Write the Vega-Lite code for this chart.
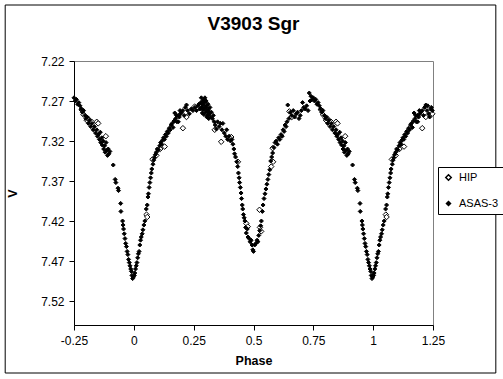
{
"$schema": "https://vega.github.io/schema/vega-lite/v6.json",
"width": 359, "height": 264,
"autosize": {"type": "none"},
"padding": {"left": 74, "top": 61, "right": 70, "bottom": 54},
"background": "white",
"title": {"text": "V3903 Sgr", "font": "Liberation Sans", "fontSize": 19, "fontWeight": "bold", "color": "black", "anchor": "middle", "offset": -29},
"config": {
  "view": {"stroke": "#808080", "strokeWidth": 1},
  "axis": {"domainColor": "black", "tickColor": "black", "tickSize": 5, "labelColor": "black", "labelFont": "Liberation Sans", "labelFontSize": 12, "titleFont": "Liberation Sans", "titleFontSize": 12.5, "titleFontWeight": "bold", "titleColor": "black", "grid": false},
  "legend": {"orient": "none", "legendX": 364, "legendY": 106, "title": null, "strokeColor": "black", "fillColor": "white", "padding": 5, "rowPadding": 13, "labelFont": "Liberation Sans", "labelFontSize": 11, "labelColor": "black", "labelOffset": 5}
},
"layer": [
  {
    "data": {"values": [{}]},
    "mark": {"type": "rect", "fill": null, "stroke": "black", "strokeWidth": 1, "clip": false},
    "encoding": {
      "x": {"datum": -0.5375, "type": "quantitative"},
      "x2": {"datum": 1.5125},
      "y": {"datum": 7.15, "type": "quantitative"},
      "y2": {"datum": 7.61}
    }
  },
  {
    "data": {"values": [
{"p":0.053,"v":7.412,"s":"HIP"},{"p":0.056,"v":7.415,"s":"HIP"},{"p":0.078,"v":7.343,"s":"HIP"},{"p":0.094,"v":7.338,"s":"HIP"},{"p":0.110,"v":7.330,"s":"HIP"},{"p":0.129,"v":7.327,"s":"HIP"},{"p":0.205,"v":7.304,"s":"HIP"},{"p":0.220,"v":7.290,"s":"HIP"},{"p":0.254,"v":7.277,"s":"HIP"},{"p":0.338,"v":7.306,"s":"HIP"},{"p":0.365,"v":7.321,"s":"HIP"},{"p":0.407,"v":7.315,"s":"HIP"},{"p":0.435,"v":7.346,"s":"HIP"},{"p":0.470,"v":7.423,"s":"HIP"},{"p":0.476,"v":7.427,"s":"HIP"},{"p":0.525,"v":7.406,"s":"HIP"},{"p":0.527,"v":7.428,"s":"HIP"},{"p":0.532,"v":7.433,"s":"HIP"},{"p":0.574,"v":7.352,"s":"HIP"},{"p":0.580,"v":7.329,"s":"HIP"},{"p":0.582,"v":7.346,"s":"HIP"},{"p":0.650,"v":7.283,"s":"HIP"},{"p":0.660,"v":7.290,"s":"HIP"},{"p":0.782,"v":7.281,"s":"HIP"},{"p":0.790,"v":7.287,"s":"HIP"},{"p":0.803,"v":7.294,"s":"HIP"},{"p":0.812,"v":7.293,"s":"HIP"},{"p":0.824,"v":7.296,"s":"HIP"},{"p":0.845,"v":7.296,"s":"HIP"},{"p":0.851,"v":7.298,"s":"HIP"},{"p":0.883,"v":7.314,"s":"HIP"},
{"p":-0.218,"v":7.281,"s":"HIP"},{"p":-0.210,"v":7.287,"s":"HIP"},{"p":-0.197,"v":7.294,"s":"HIP"},{"p":-0.188,"v":7.293,"s":"HIP"},{"p":-0.176,"v":7.296,"s":"HIP"},{"p":-0.155,"v":7.296,"s":"HIP"},{"p":-0.149,"v":7.298,"s":"HIP"},{"p":-0.117,"v":7.314,"s":"HIP"},
{"p":1.053,"v":7.412,"s":"HIP"},{"p":1.056,"v":7.415,"s":"HIP"},{"p":1.078,"v":7.343,"s":"HIP"},{"p":1.094,"v":7.338,"s":"HIP"},{"p":1.110,"v":7.330,"s":"HIP"},{"p":1.129,"v":7.327,"s":"HIP"},{"p":1.205,"v":7.304,"s":"HIP"},{"p":1.220,"v":7.290,"s":"HIP"},{"p":1.247,"v":7.286,"s":"HIP"},
{"p":0.852,"v":7.312,"s":"ASAS-3"},{"p":0.856,"v":7.318,"s":"ASAS-3"},{"p":0.860,"v":7.309,"s":"ASAS-3"},{"p":0.862,"v":7.322,"s":"ASAS-3"},{"p":0.866,"v":7.316,"s":"ASAS-3"},{"p":0.868,"v":7.325,"s":"ASAS-3"},{"p":0.872,"v":7.320,"s":"ASAS-3"},{"p":0.874,"v":7.330,"s":"ASAS-3"},{"p":0.878,"v":7.326,"s":"ASAS-3"},{"p":0.880,"v":7.334,"s":"ASAS-3"},{"p":0.884,"v":7.322,"s":"ASAS-3"},{"p":0.886,"v":7.332,"s":"ASAS-3"},{"p":0.890,"v":7.338,"s":"ASAS-3"},{"p":0.893,"v":7.330,"s":"ASAS-3"},{"p":0.896,"v":7.336,"s":"ASAS-3"},{"p":0.900,"v":7.333,"s":"ASAS-3"},{"p":0.914,"v":7.350,"s":"ASAS-3"},{"p":0.922,"v":7.368,"s":"ASAS-3"},{"p":0.925,"v":7.372,"s":"ASAS-3"},{"p":0.934,"v":7.379,"s":"ASAS-3"},{"p":0.936,"v":7.382,"s":"ASAS-3"},{"p":0.945,"v":7.398,"s":"ASAS-3"},{"p":0.946,"v":7.408,"s":"ASAS-3"},{"p":0.953,"v":7.420,"s":"ASAS-3"},{"p":0.955,"v":7.425,"s":"ASAS-3"},{"p":0.957,"v":7.430,"s":"ASAS-3"},{"p":0.960,"v":7.436,"s":"ASAS-3"},{"p":0.963,"v":7.442,"s":"ASAS-3"},{"p":0.966,"v":7.448,"s":"ASAS-3"},{"p":0.969,"v":7.452,"s":"ASAS-3"},{"p":0.972,"v":7.458,"s":"ASAS-3"},{"p":0.975,"v":7.462,"s":"ASAS-3"},{"p":0.978,"v":7.468,"s":"ASAS-3"},{"p":0.981,"v":7.472,"s":"ASAS-3"},{"p":0.984,"v":7.476,"s":"ASAS-3"},{"p":0.987,"v":7.480,"s":"ASAS-3"},{"p":0.990,"v":7.483,"s":"ASAS-3"},{"p":0.992,"v":7.488,"s":"ASAS-3"},{"p":0.995,"v":7.492,"s":"ASAS-3"},{"p":0.998,"v":7.490,"s":"ASAS-3"},
{"p":0.002,"v":7.488,"s":"ASAS-3"},{"p":0.004,"v":7.485,"s":"ASAS-3"},{"p":0.007,"v":7.480,"s":"ASAS-3"},{"p":0.010,"v":7.476,"s":"ASAS-3"},{"p":0.013,"v":7.472,"s":"ASAS-3"},{"p":0.016,"v":7.466,"s":"ASAS-3"},{"p":0.019,"v":7.461,"s":"ASAS-3"},{"p":0.022,"v":7.458,"s":"ASAS-3"},{"p":0.025,"v":7.450,"s":"ASAS-3"},{"p":0.028,"v":7.444,"s":"ASAS-3"},{"p":0.031,"v":7.440,"s":"ASAS-3"},{"p":0.035,"v":7.436,"s":"ASAS-3"},{"p":0.038,"v":7.431,"s":"ASAS-3"},{"p":0.042,"v":7.425,"s":"ASAS-3"},{"p":0.046,"v":7.420,"s":"ASAS-3"},{"p":0.052,"v":7.405,"s":"ASAS-3"},{"p":0.056,"v":7.400,"s":"ASAS-3"},{"p":0.059,"v":7.390,"s":"ASAS-3"},{"p":0.061,"v":7.386,"s":"ASAS-3"},{"p":0.064,"v":7.378,"s":"ASAS-3"},{"p":0.067,"v":7.372,"s":"ASAS-3"},{"p":0.070,"v":7.366,"s":"ASAS-3"},{"p":0.073,"v":7.360,"s":"ASAS-3"},{"p":0.075,"v":7.355,"s":"ASAS-3"},{"p":0.080,"v":7.349,"s":"ASAS-3"},{"p":0.083,"v":7.344,"s":"ASAS-3"},{"p":0.086,"v":7.341,"s":"ASAS-3"},{"p":0.090,"v":7.337,"s":"ASAS-3"},{"p":0.094,"v":7.334,"s":"ASAS-3"},{"p":0.098,"v":7.330,"s":"ASAS-3"},{"p":0.103,"v":7.331,"s":"ASAS-3"},
{"p":0.108,"v":7.326,"s":"ASAS-3"},{"p":0.112,"v":7.322,"s":"ASAS-3"},{"p":0.116,"v":7.324,"s":"ASAS-3"},{"p":0.120,"v":7.319,"s":"ASAS-3"},{"p":0.124,"v":7.316,"s":"ASAS-3"},{"p":0.128,"v":7.318,"s":"ASAS-3"},{"p":0.132,"v":7.312,"s":"ASAS-3"},{"p":0.136,"v":7.314,"s":"ASAS-3"},{"p":0.140,"v":7.308,"s":"ASAS-3"},{"p":0.144,"v":7.310,"s":"ASAS-3"},{"p":0.148,"v":7.304,"s":"ASAS-3"},{"p":0.152,"v":7.306,"s":"ASAS-3"},{"p":0.156,"v":7.300,"s":"ASAS-3"},{"p":0.160,"v":7.298,"s":"ASAS-3"},{"p":0.164,"v":7.303,"s":"ASAS-3"},{"p":0.168,"v":7.295,"s":"ASAS-3"},{"p":0.171,"v":7.285,"s":"ASAS-3"},{"p":0.175,"v":7.292,"s":"ASAS-3"},{"p":0.180,"v":7.296,"s":"ASAS-3"},{"p":0.185,"v":7.288,"s":"ASAS-3"},{"p":0.190,"v":7.290,"s":"ASAS-3"},{"p":0.195,"v":7.286,"s":"ASAS-3"},{"p":0.199,"v":7.284,"s":"ASAS-3"},{"p":0.205,"v":7.282,"s":"ASAS-3"},{"p":0.210,"v":7.288,"s":"ASAS-3"},{"p":0.215,"v":7.278,"s":"ASAS-3"},{"p":0.220,"v":7.275,"s":"ASAS-3"},{"p":0.225,"v":7.282,"s":"ASAS-3"},{"p":0.232,"v":7.286,"s":"ASAS-3"},{"p":0.240,"v":7.280,"s":"ASAS-3"},{"p":0.247,"v":7.282,"s":"ASAS-3"},
{"p":0.255,"v":7.278,"s":"ASAS-3"},{"p":0.262,"v":7.282,"s":"ASAS-3"},{"p":0.268,"v":7.276,"s":"ASAS-3"},{"p":0.272,"v":7.274,"s":"ASAS-3"},{"p":0.276,"v":7.280,"s":"ASAS-3"},{"p":0.280,"v":7.272,"s":"ASAS-3"},{"p":0.283,"v":7.278,"s":"ASAS-3"},{"p":0.286,"v":7.285,"s":"ASAS-3"},{"p":0.288,"v":7.270,"s":"ASAS-3"},{"p":0.290,"v":7.275,"s":"ASAS-3"},{"p":0.292,"v":7.280,"s":"ASAS-3"},{"p":0.294,"v":7.268,"s":"ASAS-3"},{"p":0.296,"v":7.272,"s":"ASAS-3"},{"p":0.298,"v":7.278,"s":"ASAS-3"},{"p":0.300,"v":7.284,"s":"ASAS-3"},{"p":0.302,"v":7.270,"s":"ASAS-3"},{"p":0.304,"v":7.276,"s":"ASAS-3"},{"p":0.306,"v":7.282,"s":"ASAS-3"},{"p":0.308,"v":7.288,"s":"ASAS-3"},{"p":0.310,"v":7.274,"s":"ASAS-3"},{"p":0.312,"v":7.280,"s":"ASAS-3"},{"p":0.315,"v":7.286,"s":"ASAS-3"},{"p":0.318,"v":7.278,"s":"ASAS-3"},{"p":0.320,"v":7.290,"s":"ASAS-3"},{"p":0.324,"v":7.284,"s":"ASAS-3"},{"p":0.328,"v":7.292,"s":"ASAS-3"},{"p":0.332,"v":7.288,"s":"ASAS-3"},{"p":0.336,"v":7.296,"s":"ASAS-3"},{"p":0.340,"v":7.300,"s":"ASAS-3"},{"p":0.345,"v":7.305,"s":"ASAS-3"},{"p":0.350,"v":7.296,"s":"ASAS-3"},{"p":0.356,"v":7.302,"s":"ASAS-3"},{"p":0.362,"v":7.298,"s":"ASAS-3"},{"p":0.368,"v":7.306,"s":"ASAS-3"},{"p":0.372,"v":7.298,"s":"ASAS-3"},{"p":0.378,"v":7.310,"s":"ASAS-3"},{"p":0.384,"v":7.314,"s":"ASAS-3"},{"p":0.388,"v":7.306,"s":"ASAS-3"},{"p":0.392,"v":7.318,"s":"ASAS-3"},{"p":0.398,"v":7.314,"s":"ASAS-3"},{"p":0.404,"v":7.320,"s":"ASAS-3"},{"p":0.410,"v":7.318,"s":"ASAS-3"},{"p":0.414,"v":7.324,"s":"ASAS-3"},{"p":0.418,"v":7.330,"s":"ASAS-3"},{"p":0.421,"v":7.336,"s":"ASAS-3"},{"p":0.425,"v":7.340,"s":"ASAS-3"},{"p":0.430,"v":7.346,"s":"ASAS-3"},{"p":0.434,"v":7.352,"s":"ASAS-3"},{"p":0.437,"v":7.360,"s":"ASAS-3"},{"p":0.440,"v":7.366,"s":"ASAS-3"},{"p":0.442,"v":7.372,"s":"ASAS-3"},{"p":0.445,"v":7.378,"s":"ASAS-3"},{"p":0.448,"v":7.385,"s":"ASAS-3"},{"p":0.450,"v":7.392,"s":"ASAS-3"},{"p":0.453,"v":7.400,"s":"ASAS-3"},{"p":0.455,"v":7.405,"s":"ASAS-3"},{"p":0.458,"v":7.412,"s":"ASAS-3"},{"p":0.461,"v":7.416,"s":"ASAS-3"},{"p":0.464,"v":7.420,"s":"ASAS-3"},{"p":0.467,"v":7.428,"s":"ASAS-3"},{"p":0.470,"v":7.435,"s":"ASAS-3"},{"p":0.474,"v":7.430,"s":"ASAS-3"},{"p":0.477,"v":7.440,"s":"ASAS-3"},{"p":0.482,"v":7.442,"s":"ASAS-3"},{"p":0.486,"v":7.446,"s":"ASAS-3"},{"p":0.490,"v":7.444,"s":"ASAS-3"},{"p":0.494,"v":7.450,"s":"ASAS-3"},{"p":0.497,"v":7.456,"s":"ASAS-3"},{"p":0.500,"v":7.458,"s":"ASAS-3"},
{"p":0.282,"v":7.266,"s":"ASAS-3"},{"p":0.285,"v":7.274,"s":"ASAS-3"},{"p":0.289,"v":7.281,"s":"ASAS-3"},{"p":0.293,"v":7.287,"s":"ASAS-3"},{"p":0.297,"v":7.266,"s":"ASAS-3"},{"p":0.301,"v":7.278,"s":"ASAS-3"},{"p":0.305,"v":7.290,"s":"ASAS-3"},{"p":0.309,"v":7.283,"s":"ASAS-3"},{"p":0.313,"v":7.292,"s":"ASAS-3"},{"p":0.317,"v":7.284,"s":"ASAS-3"},{"p":0.178,"v":7.288,"s":"ASAS-3"},{"p":0.186,"v":7.296,"s":"ASAS-3"},{"p":0.193,"v":7.282,"s":"ASAS-3"},
{"p":0.505,"v":7.450,"s":"ASAS-3"},{"p":0.510,"v":7.448,"s":"ASAS-3"},{"p":0.515,"v":7.444,"s":"ASAS-3"},{"p":0.518,"v":7.446,"s":"ASAS-3"},{"p":0.522,"v":7.438,"s":"ASAS-3"},{"p":0.526,"v":7.432,"s":"ASAS-3"},{"p":0.530,"v":7.426,"s":"ASAS-3"},{"p":0.533,"v":7.420,"s":"ASAS-3"},{"p":0.537,"v":7.408,"s":"ASAS-3"},{"p":0.540,"v":7.400,"s":"ASAS-3"},{"p":0.544,"v":7.392,"s":"ASAS-3"},{"p":0.548,"v":7.386,"s":"ASAS-3"},{"p":0.552,"v":7.380,"s":"ASAS-3"},{"p":0.556,"v":7.374,"s":"ASAS-3"},{"p":0.560,"v":7.368,"s":"ASAS-3"},{"p":0.564,"v":7.362,"s":"ASAS-3"},{"p":0.568,"v":7.356,"s":"ASAS-3"},{"p":0.572,"v":7.345,"s":"ASAS-3"},{"p":0.576,"v":7.340,"s":"ASAS-3"},{"p":0.580,"v":7.335,"s":"ASAS-3"},{"p":0.585,"v":7.328,"s":"ASAS-3"},{"p":0.590,"v":7.322,"s":"ASAS-3"},{"p":0.595,"v":7.320,"s":"ASAS-3"},{"p":0.600,"v":7.324,"s":"ASAS-3"},{"p":0.605,"v":7.316,"s":"ASAS-3"},{"p":0.610,"v":7.318,"s":"ASAS-3"},{"p":0.615,"v":7.312,"s":"ASAS-3"},{"p":0.620,"v":7.314,"s":"ASAS-3"},{"p":0.624,"v":7.306,"s":"ASAS-3"},{"p":0.628,"v":7.308,"s":"ASAS-3"},{"p":0.632,"v":7.300,"s":"ASAS-3"},{"p":0.636,"v":7.302,"s":"ASAS-3"},{"p":0.640,"v":7.296,"s":"ASAS-3"},{"p":0.643,"v":7.275,"s":"ASAS-3"},{"p":0.648,"v":7.292,"s":"ASAS-3"},{"p":0.654,"v":7.284,"s":"ASAS-3"},{"p":0.660,"v":7.288,"s":"ASAS-3"},{"p":0.666,"v":7.282,"s":"ASAS-3"},{"p":0.672,"v":7.290,"s":"ASAS-3"},{"p":0.678,"v":7.286,"s":"ASAS-3"},{"p":0.684,"v":7.284,"s":"ASAS-3"},{"p":0.690,"v":7.292,"s":"ASAS-3"},{"p":0.695,"v":7.288,"s":"ASAS-3"},{"p":0.700,"v":7.282,"s":"ASAS-3"},{"p":0.705,"v":7.272,"s":"ASAS-3"},{"p":0.710,"v":7.278,"s":"ASAS-3"},{"p":0.716,"v":7.280,"s":"ASAS-3"},{"p":0.722,"v":7.276,"s":"ASAS-3"},{"p":0.728,"v":7.282,"s":"ASAS-3"},{"p":0.733,"v":7.260,"s":"ASAS-3"},{"p":0.736,"v":7.270,"s":"ASAS-3"},{"p":0.740,"v":7.264,"s":"ASAS-3"},{"p":0.745,"v":7.268,"s":"ASAS-3"},
{"p":0.750,"v":7.266,"s":"ASAS-3"},{"p":0.755,"v":7.270,"s":"ASAS-3"},{"p":0.760,"v":7.268,"s":"ASAS-3"},{"p":0.765,"v":7.274,"s":"ASAS-3"},{"p":0.770,"v":7.272,"s":"ASAS-3"},{"p":0.775,"v":7.276,"s":"ASAS-3"},{"p":0.780,"v":7.280,"s":"ASAS-3"},{"p":0.785,"v":7.284,"s":"ASAS-3"},{"p":0.790,"v":7.282,"s":"ASAS-3"},{"p":0.796,"v":7.288,"s":"ASAS-3"},{"p":0.800,"v":7.292,"s":"ASAS-3"},{"p":0.805,"v":7.290,"s":"ASAS-3"},{"p":0.810,"v":7.298,"s":"ASAS-3"},{"p":0.815,"v":7.294,"s":"ASAS-3"},{"p":0.820,"v":7.302,"s":"ASAS-3"},{"p":0.825,"v":7.298,"s":"ASAS-3"},{"p":0.830,"v":7.306,"s":"ASAS-3"},{"p":0.835,"v":7.302,"s":"ASAS-3"},{"p":0.840,"v":7.310,"s":"ASAS-3"},{"p":0.845,"v":7.306,"s":"ASAS-3"},{"p":0.848,"v":7.314,"s":"ASAS-3"},
{"p":-0.250,"v":7.266,"s":"ASAS-3"},{"p":-0.245,"v":7.270,"s":"ASAS-3"},{"p":-0.240,"v":7.268,"s":"ASAS-3"},{"p":-0.235,"v":7.274,"s":"ASAS-3"},{"p":-0.230,"v":7.272,"s":"ASAS-3"},{"p":-0.225,"v":7.276,"s":"ASAS-3"},{"p":-0.220,"v":7.280,"s":"ASAS-3"},{"p":-0.215,"v":7.284,"s":"ASAS-3"},{"p":-0.210,"v":7.282,"s":"ASAS-3"},{"p":-0.204,"v":7.288,"s":"ASAS-3"},{"p":-0.200,"v":7.292,"s":"ASAS-3"},{"p":-0.195,"v":7.290,"s":"ASAS-3"},{"p":-0.190,"v":7.298,"s":"ASAS-3"},{"p":-0.185,"v":7.294,"s":"ASAS-3"},{"p":-0.180,"v":7.302,"s":"ASAS-3"},{"p":-0.175,"v":7.298,"s":"ASAS-3"},{"p":-0.170,"v":7.306,"s":"ASAS-3"},{"p":-0.165,"v":7.302,"s":"ASAS-3"},{"p":-0.160,"v":7.310,"s":"ASAS-3"},{"p":-0.155,"v":7.306,"s":"ASAS-3"},{"p":-0.152,"v":7.314,"s":"ASAS-3"},{"p":-0.148,"v":7.312,"s":"ASAS-3"},{"p":-0.144,"v":7.318,"s":"ASAS-3"},{"p":-0.140,"v":7.309,"s":"ASAS-3"},{"p":-0.138,"v":7.322,"s":"ASAS-3"},{"p":-0.134,"v":7.316,"s":"ASAS-3"},{"p":-0.132,"v":7.325,"s":"ASAS-3"},{"p":-0.128,"v":7.320,"s":"ASAS-3"},{"p":-0.126,"v":7.330,"s":"ASAS-3"},{"p":-0.122,"v":7.326,"s":"ASAS-3"},{"p":-0.120,"v":7.334,"s":"ASAS-3"},{"p":-0.116,"v":7.322,"s":"ASAS-3"},{"p":-0.114,"v":7.332,"s":"ASAS-3"},{"p":-0.110,"v":7.338,"s":"ASAS-3"},{"p":-0.107,"v":7.330,"s":"ASAS-3"},{"p":-0.104,"v":7.336,"s":"ASAS-3"},{"p":-0.100,"v":7.333,"s":"ASAS-3"},{"p":-0.086,"v":7.350,"s":"ASAS-3"},{"p":-0.078,"v":7.368,"s":"ASAS-3"},{"p":-0.075,"v":7.372,"s":"ASAS-3"},{"p":-0.066,"v":7.379,"s":"ASAS-3"},{"p":-0.064,"v":7.382,"s":"ASAS-3"},{"p":-0.055,"v":7.398,"s":"ASAS-3"},{"p":-0.054,"v":7.408,"s":"ASAS-3"},{"p":-0.047,"v":7.420,"s":"ASAS-3"},{"p":-0.045,"v":7.425,"s":"ASAS-3"},{"p":-0.043,"v":7.430,"s":"ASAS-3"},{"p":-0.040,"v":7.436,"s":"ASAS-3"},{"p":-0.037,"v":7.442,"s":"ASAS-3"},{"p":-0.034,"v":7.448,"s":"ASAS-3"},{"p":-0.031,"v":7.452,"s":"ASAS-3"},{"p":-0.028,"v":7.458,"s":"ASAS-3"},{"p":-0.025,"v":7.462,"s":"ASAS-3"},{"p":-0.022,"v":7.468,"s":"ASAS-3"},{"p":-0.019,"v":7.472,"s":"ASAS-3"},{"p":-0.016,"v":7.476,"s":"ASAS-3"},{"p":-0.013,"v":7.480,"s":"ASAS-3"},{"p":-0.010,"v":7.483,"s":"ASAS-3"},{"p":-0.008,"v":7.488,"s":"ASAS-3"},{"p":-0.005,"v":7.492,"s":"ASAS-3"},{"p":-0.002,"v":7.490,"s":"ASAS-3"},
{"p":1.002,"v":7.488,"s":"ASAS-3"},{"p":1.004,"v":7.485,"s":"ASAS-3"},{"p":1.007,"v":7.480,"s":"ASAS-3"},{"p":1.010,"v":7.476,"s":"ASAS-3"},{"p":1.013,"v":7.472,"s":"ASAS-3"},{"p":1.016,"v":7.466,"s":"ASAS-3"},{"p":1.019,"v":7.461,"s":"ASAS-3"},{"p":1.022,"v":7.458,"s":"ASAS-3"},{"p":1.025,"v":7.450,"s":"ASAS-3"},{"p":1.028,"v":7.444,"s":"ASAS-3"},{"p":1.031,"v":7.440,"s":"ASAS-3"},{"p":1.035,"v":7.436,"s":"ASAS-3"},{"p":1.038,"v":7.431,"s":"ASAS-3"},{"p":1.042,"v":7.425,"s":"ASAS-3"},{"p":1.046,"v":7.420,"s":"ASAS-3"},{"p":1.052,"v":7.405,"s":"ASAS-3"},{"p":1.056,"v":7.400,"s":"ASAS-3"},{"p":1.059,"v":7.390,"s":"ASAS-3"},{"p":1.061,"v":7.386,"s":"ASAS-3"},{"p":1.064,"v":7.378,"s":"ASAS-3"},{"p":1.067,"v":7.372,"s":"ASAS-3"},{"p":1.070,"v":7.366,"s":"ASAS-3"},{"p":1.073,"v":7.360,"s":"ASAS-3"},{"p":1.075,"v":7.355,"s":"ASAS-3"},{"p":1.080,"v":7.349,"s":"ASAS-3"},{"p":1.083,"v":7.344,"s":"ASAS-3"},{"p":1.086,"v":7.341,"s":"ASAS-3"},{"p":1.090,"v":7.337,"s":"ASAS-3"},{"p":1.094,"v":7.334,"s":"ASAS-3"},{"p":1.098,"v":7.330,"s":"ASAS-3"},{"p":1.103,"v":7.331,"s":"ASAS-3"},{"p":1.108,"v":7.326,"s":"ASAS-3"},{"p":1.112,"v":7.322,"s":"ASAS-3"},{"p":1.116,"v":7.324,"s":"ASAS-3"},{"p":1.120,"v":7.319,"s":"ASAS-3"},{"p":1.124,"v":7.316,"s":"ASAS-3"},{"p":1.128,"v":7.318,"s":"ASAS-3"},{"p":1.132,"v":7.312,"s":"ASAS-3"},{"p":1.136,"v":7.314,"s":"ASAS-3"},{"p":1.140,"v":7.308,"s":"ASAS-3"},{"p":1.144,"v":7.310,"s":"ASAS-3"},{"p":1.148,"v":7.304,"s":"ASAS-3"},{"p":1.152,"v":7.306,"s":"ASAS-3"},{"p":1.156,"v":7.300,"s":"ASAS-3"},{"p":1.160,"v":7.298,"s":"ASAS-3"},{"p":1.164,"v":7.303,"s":"ASAS-3"},{"p":1.168,"v":7.295,"s":"ASAS-3"},{"p":1.171,"v":7.285,"s":"ASAS-3"},{"p":1.175,"v":7.292,"s":"ASAS-3"},{"p":1.180,"v":7.296,"s":"ASAS-3"},{"p":1.185,"v":7.288,"s":"ASAS-3"},{"p":1.190,"v":7.290,"s":"ASAS-3"},{"p":1.195,"v":7.286,"s":"ASAS-3"},{"p":1.199,"v":7.284,"s":"ASAS-3"},{"p":1.205,"v":7.282,"s":"ASAS-3"},{"p":1.210,"v":7.288,"s":"ASAS-3"},{"p":1.215,"v":7.278,"s":"ASAS-3"},{"p":1.220,"v":7.275,"s":"ASAS-3"},{"p":1.225,"v":7.282,"s":"ASAS-3"},{"p":1.232,"v":7.286,"s":"ASAS-3"},{"p":1.240,"v":7.280,"s":"ASAS-3"},{"p":1.247,"v":7.282,"s":"ASAS-3"},{"p":1.228,"v":7.276,"s":"ASAS-3"},{"p":1.236,"v":7.290,"s":"ASAS-3"},{"p":1.243,"v":7.278,"s":"ASAS-3"},{"p":1.178,"v":7.288,"s":"ASAS-3"},{"p":1.186,"v":7.296,"s":"ASAS-3"},{"p":1.193,"v":7.282,"s":"ASAS-3"}
    ]},
    "mark": {"type": "point", "filled": false, "stroke": "black", "strokeWidth": 1, "opacity": 1},
    "encoding": {
      "x": {"field": "p", "type": "quantitative", "title": "Phase",
        "scale": {"domain": [-0.25, 1.25], "nice": false, "zero": false},
        "axis": {"values": [-0.25, 0, 0.25, 0.5, 0.75, 1, 1.25], "labelExpr": "'' + datum.value", "labelPadding": 5, "titlePadding": 8, "labelFlush": false}},
      "y": {"field": "v", "type": "quantitative", "title": "V",
        "scale": {"domain": [7.22, 7.55], "reverse": true, "nice": false, "zero": false},
        "axis": {"values": [7.22, 7.27, 7.32, 7.37, 7.42, 7.47, 7.52], "format": ".2f", "labelPadding": 5, "titlePadding": 21}},
      "shape": {"field": "s", "type": "nominal", "scale": {"domain": ["HIP", "ASAS-3"], "range": ["diamond", "diamond"]}},
      "fill": {"field": "s", "type": "nominal", "scale": {"domain": ["HIP", "ASAS-3"], "range": ["white", "black"]}},
      "size": {"field": "s", "type": "nominal", "scale": {"domain": ["HIP", "ASAS-3"], "range": [30, 16]}}
    }
  }
]
}
